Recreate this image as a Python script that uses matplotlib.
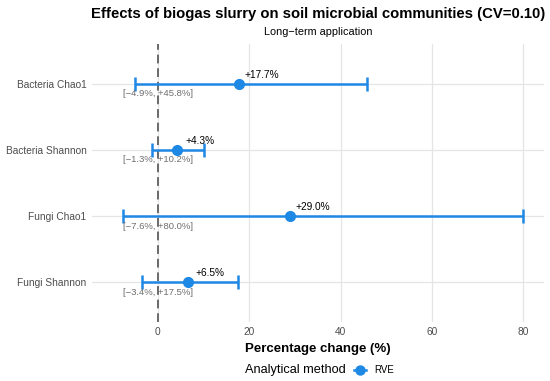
import matplotlib
matplotlib.use("Agg")
import matplotlib.pyplot as plt
from matplotlib.lines import Line2D
import numpy as np

plt.rcParams['font.family'] = ['Liberation Sans', 'DejaVu Sans']

categories = ["Bacteria Chao1", "Bacteria Shannon", "Fungi Chao1", "Fungi Shannon"]
estimates = [17.7, 4.3, 29.0, 6.5]
lower = [-4.9, -1.3, -7.6, -3.4]
upper = [45.8, 10.2, 80.0, 17.5]
xticks = [0, 20, 40, 60, 80]
method = "RVE"

blue = "#1E88E5"
W, H = 550, 381
fig = plt.figure(figsize=(W/100, H/100), dpi=100)
left, right, top, bottom = 92, 544, 44.4, 321.6
ax = fig.add_axes([left/W, 1-bottom/H, (right-left)/W, (bottom-top)/H])

y = np.arange(len(categories))
ax.set_xlim(-14.4, 84.5)
ax.set_ylim(len(categories)-1+0.6, -0.6)

for s in ax.spines.values():
    s.set_visible(False)
ax.set_xticks(xticks)
ax.set_xticklabels([str(t) for t in xticks])
ax.set_yticks(y)
ax.set_yticklabels(categories)
ax.tick_params(length=0, labelsize=7.3, labelcolor="#4D4D4D", pad=4)
ax.grid(True, color="#E5E5E5", linewidth=0.9)
ax.set_axisbelow(True)

ax.axvline(0, color="#6A6A6A", linestyle=(0, (4.5, 2.5)), linewidth=1.4, zorder=1)

err = [np.array(estimates)-np.array(lower), np.array(upper)-np.array(estimates)]
ax.errorbar(estimates, y, xerr=err, fmt='o', color=blue, ecolor=blue,
            elinewidth=1.8, capsize=4.8, capthick=1.8, markersize=7.0, zorder=3)

for yi, e, lo, hi in zip(y, estimates, lower, upper):
    ax.annotate(f"+{e:.1f}%", xy=(e + 5, yi), xytext=(0, 6.5), textcoords="offset points",
                ha="center", va="center", fontsize=7.3, color="black")
    lo_s = f"\u2212{abs(lo):.1f}%" if lo < 0 else f"+{lo:.1f}%"
    ax.annotate(f"[{lo_s}, +{hi:.1f}%]", xy=(0, yi), xytext=(0, -7.2), textcoords="offset points",
                ha="center", va="center", fontsize=6.8, color="#6E6E6E")

ax.set_xlabel("Percentage change (%)", fontsize=9.5, fontweight="bold", labelpad=4)

cx = (left + right) / 2 / W
fig.text(cx, 1-14/H, "Effects of biogas slurry on soil microbial communities (CV=0.10)",
         ha="center", va="center", fontsize=10.7, fontweight="bold")
fig.text(cx, 1-32/H, "Long\u2212term application", ha="center", va="center", fontsize=7.8)

fig.text(245/W, 1-370/H, "Analytical method", ha="left", va="center", fontsize=9.2)
h = Line2D([], [], color=blue, marker='o', markersize=6.5, linewidth=1.8)
fig.legend([h], [method], loc="center left", bbox_to_anchor=(354/W, 1-370/H),
           frameon=False, fontsize=7, handlelength=1.2, handletextpad=0.9,
           borderpad=0, borderaxespad=0)

fig.savefig("out.png", dpi=100)
